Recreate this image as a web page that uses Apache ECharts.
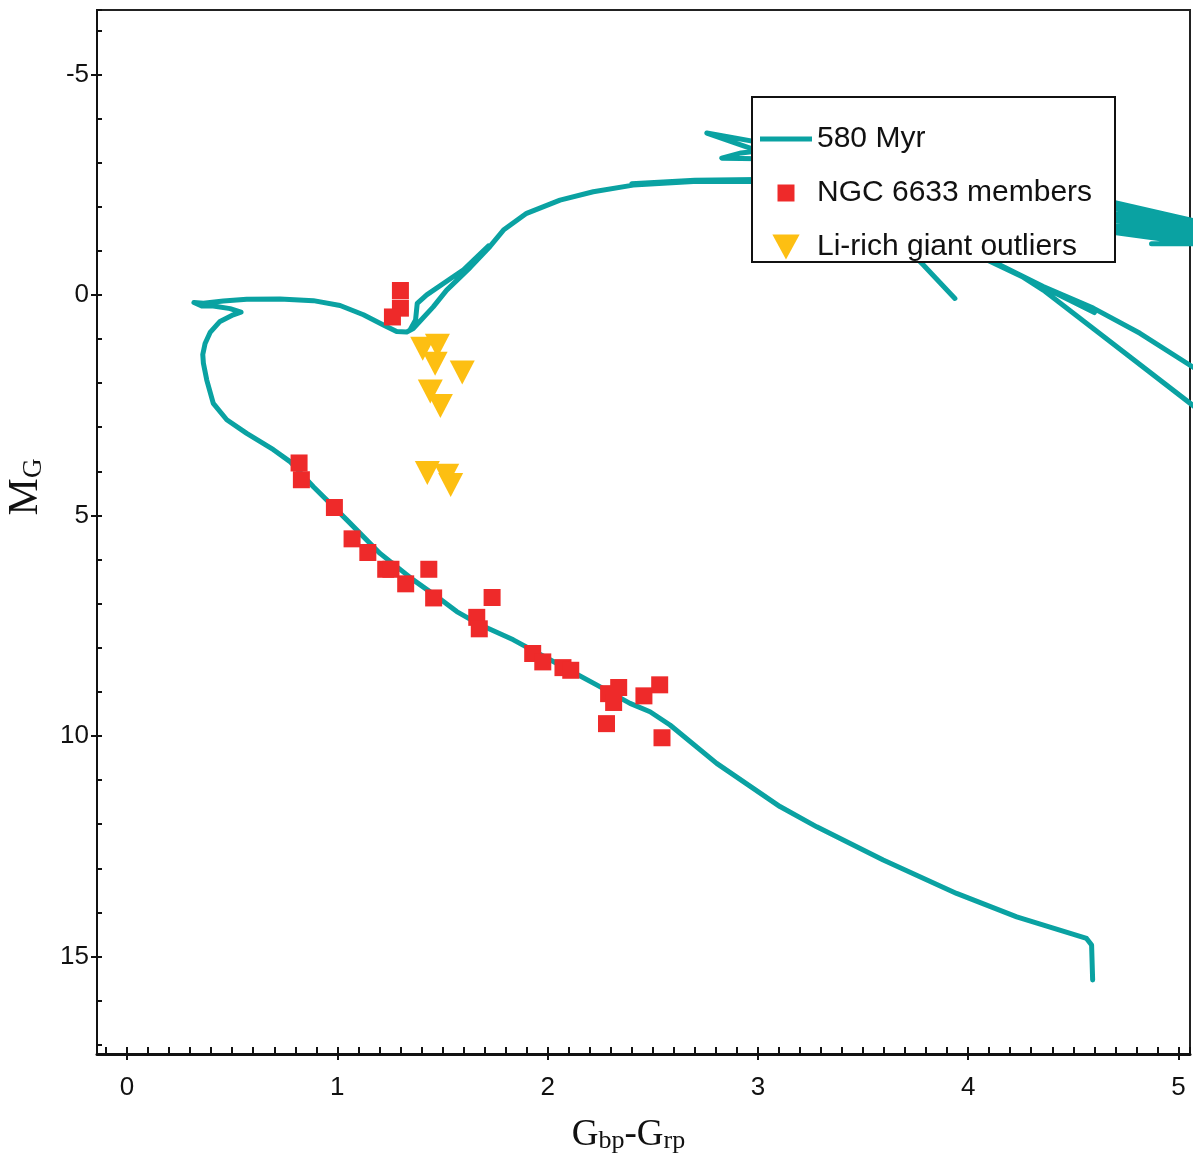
<!DOCTYPE html>
<html>
<head>
<meta charset="utf-8">
<script src="https://cdn.jsdelivr.net/npm/echarts@6/dist/echarts.min.js"></script>
<style>
html,body{margin:0;padding:0;background:#fff;}
#chart{width:1200px;height:1165px;}
</style>
</head>
<body>
<div id="chart"></div>
<script>
// ---- Axis ranges ----
const xRange = [-0.143, 5.055];
const yRange = [-6.46, 17.21];

// ---- Legend / series names ----
const seriesNames = ['580 Myr', 'NGC 6633 members', 'Li-rich giant outliers'];

// ---- NGC 6633 members (Gbp-Grp, M_G) ----
const memberColor = [1.30, 1.30, 1.262, 0.818, 0.829, 0.986, 1.07, 1.145, 1.23, 1.255, 1.325, 1.435, 1.458, 1.663, 1.675, 1.736, 1.929, 1.977, 2.073, 2.11, 2.29, 2.338, 2.314, 2.28, 2.458, 2.533, 2.544];
const memberMag   = [-0.10, 0.30, 0.50, 3.81, 4.19, 4.82, 5.53, 5.84, 6.22, 6.22, 6.55, 6.22, 6.87, 7.31, 7.57, 6.86, 8.13, 8.32, 8.45, 8.51, 9.04, 8.90, 9.24, 9.72, 9.09, 8.84, 10.04];

// ---- Li-rich giant outliers ----
const liColor = [1.476, 1.406, 1.465, 1.594, 1.442, 1.49, 1.428, 1.52, 1.539];
const liMag   = [1.15, 1.22, 1.56, 1.76, 2.19, 2.52, 4.04, 4.10, 4.31];

// ---- 580 Myr isochrone pieces ([Gbp-Grp, M_G]) ----
const isoMain = [[4.592,15.53],[4.587,14.74],[4.563,14.59],[4.231,14.10],[3.945,13.57],[3.596,12.81],[3.28,12.06],[3.105,11.60],[2.804,10.62],[2.582,9.75],[2.487,9.45],[2.392,9.26],[2.233,8.84],[2.027,8.31],[1.837,7.82],[1.679,7.48],[1.568,7.18],[1.473,6.84],[1.361,6.46],[1.203,5.86],[1.045,5.10],[0.886,4.35],[0.775,3.78],[0.696,3.51],[0.569,3.14],[0.474,2.83],[0.41,2.46],[0.379,1.93],[0.363,1.55],[0.360,1.35],[0.371,1.10],[0.395,0.85],[0.442,0.60],[0.505,0.45],[0.542,0.39],[0.49,0.31],[0.41,0.25],[0.355,0.25],[0.318,0.17],[0.363,0.19],[0.458,0.14],[0.569,0.10],[0.727,0.09],[0.886,0.13],[1.013,0.24],[1.124,0.45],[1.219,0.68],[1.282,0.83],[1.33,0.84],[1.361,0.76],[1.456,0.27],[1.52,-0.11],[1.631,-0.62],[1.726,-1.10],[1.79,-1.47],[1.90,-1.85],[2.059,-2.15],[2.217,-2.34],[2.407,-2.49],[2.693,-2.57],[2.962,-2.57],[3.3,-2.60]];
const isoLoop = [[1.345,0.80],[1.372,0.57],[1.38,0.19],[1.425,0.0],[1.60,-0.57],[1.718,-1.11]];
const isoAgbDouble = [[2.40,-2.52],[2.70,-2.60],[3.1,-2.62]];
const isoSpikeA = [[3.1,-3.38],[2.757,-3.67],[3.1,-3.10]];
const isoSpikeB = [[3.1,-3.32],[2.92,-3.22],[2.828,-3.10],[3.1,-3.08]];
const isoBundle = [[4.6,-2.20],[5.1,-1.65],[4.6,-2.06],[5.1,-1.55],[4.6,-1.91],[5.1,-1.45],[4.6,-1.77],[5.1,-1.35],[4.6,-1.62],[5.1,-1.25],[4.6,-1.48],[5.1,-1.15]];
const isoBundleTail = [[4.872,-1.16],[5.1,-1.16]];
const isoStub = [[3.70,-1.10],[3.787,-0.68],[3.937,0.08]];
const isoUpperBranch = [[4.05,-0.92],[4.151,-0.68],[4.357,-0.19],[4.595,0.30],[4.817,0.87],[5.1,1.73]];
const isoLowerBranch = [[4.246,-0.45],[4.357,-0.11],[4.627,0.88],[5.1,2.62]];
const isoBranchDouble = [[4.05,-0.88],[4.28,-0.36],[4.60,0.40]];

const isoPieces = [isoMain, isoLoop, isoAgbDouble, isoSpikeA, isoSpikeB, isoBundle, isoBundleTail, isoStub, isoUpperBranch, isoLowerBranch, isoBranchDouble];
const isoData = [];
isoPieces.forEach((p, i) => { if (i > 0) isoData.push(['-', '-']); p.forEach(pt => isoData.push(pt)); });

const memberData = memberColor.map((c, i) => [c, memberMag[i]]);
const liData = liColor.map((c, i) => [c, liMag[i]]);

const teal = '#0aa2a2';
const red = '#ee2a2a';
const yellow = '#fdbf12';
const ink = '#111';

const intLabel = v => (Math.abs(v - Math.round(v)) < 1e-6 ? String(Math.round(v)) : '');

const chart = echarts.init(document.getElementById('chart'), null, {renderer: 'canvas'});
chart.setOption({
  animation: false,
  backgroundColor: '#fff',
  grid: {left: 97, right: 10, top: 10, bottom: 111, containLabel: false, outerBoundsMode: 'none',
         show: true, borderColor: '#222', borderWidth: 2, backgroundColor: 'transparent'},
  xAxis: [{
    type: 'value', min: xRange[0], max: xRange[1], position: 'bottom',
    axisLine: {show: true, onZero: false, lineStyle: {color: ink, width: 3}},
    axisTick: {show: true, inside: false, length: 6, lineStyle: {color: ink, width: 2}},
    minorTick: {show: false},
    splitLine: {show: false},
    axisLabel: {show: true, margin: 21, formatter: intLabel, showMinLabel: false, showMaxLabel: false,
      fontFamily: 'Liberation Sans', fontSize: 26, color: ink},
    name: '{b|G}{s|bp}{b|-G}{s|rp}', nameLocation: 'middle', nameGap: 60,
    nameTextStyle: {padding: [0, 30, 0, 0], rich: {
      b: {fontFamily: 'Liberation Serif', fontSize: 37, lineHeight: 40, color: ink, verticalAlign: 'bottom'},
      s: {fontFamily: 'Liberation Serif', fontSize: 26, lineHeight: 28, color: ink, verticalAlign: 'bottom'}
    }}
  }, {
    type: 'value', min: xRange[0], max: xRange[1], position: 'bottom',
    axisLine: {show: false, onZero: false},
    axisTick: {show: true, inside: true, length: 7, lineStyle: {color: ink, width: 2}},
    minorTick: {show: true, splitNumber: 10, length: 7, lineStyle: {color: ink, width: 2}},
    splitLine: {show: false}, axisLabel: {show: false}
  }],
  yAxis: [{
    type: 'value', min: yRange[0], max: yRange[1], inverse: true, position: 'left',
    axisLine: {show: true, onZero: false, lineStyle: {color: ink, width: 2}},
    axisTick: {show: true, inside: false, length: 6, lineStyle: {color: ink, width: 2}},
    minorTick: {show: false},
    splitLine: {show: false},
    axisLabel: {show: true, margin: 8, formatter: intLabel, showMinLabel: false, showMaxLabel: false,
      fontFamily: 'Liberation Sans', fontSize: 26, color: ink},
    name: '{m|M}{g|G}', nameLocation: 'middle', nameGap: 50, nameRotate: 90,
    nameTextStyle: {padding: [0, 0, 0, 90], rich: {
      m: {fontFamily: 'Liberation Serif', fontSize: 42, lineHeight: 46, color: ink, verticalAlign: 'bottom'},
      g: {fontFamily: 'Liberation Serif', fontSize: 27, lineHeight: 31, color: ink, verticalAlign: 'bottom'}
    }}
  }, {
    type: 'value', min: yRange[0], max: yRange[1], inverse: true, position: 'left',
    axisLine: {show: false, onZero: false},
    axisTick: {show: true, inside: true, length: 5, lineStyle: {color: ink, width: 2}},
    minorTick: {show: true, splitNumber: 5, length: 5, lineStyle: {color: ink, width: 2}},
    splitLine: {show: false}, axisLabel: {show: false}
  }],
  legend: {
    orient: 'vertical', left: 752, top: 97,
    padding: [27, 8, 0, 8], itemGap: 24, itemWidth: 52, itemHeight: 25,
    backgroundColor: '#fff', borderColor: ink, borderWidth: 2, borderRadius: 0,
    textStyle: {fontFamily: 'Liberation Sans', fontSize: 30, lineHeight: 30, color: ink, width: 290},
    selectedMode: false,
    data: [
      {name: seriesNames[0], icon: 'path://M0,0H52V5H0Z', itemStyle: {color: teal}},
      {name: seriesNames[1], icon: 'path://M-4,-4M0,0H17V17H0ZM21,21'},
      {name: seriesNames[2], icon: 'path://M0,0H24L12,22Z'}
    ]
  },
  series: [{
    name: seriesNames[0], type: 'line', xAxisIndex: 0, yAxisIndex: 0,
    data: isoData, showSymbol: false, symbol: 'none', connectNulls: false, clip: true, smooth: false,
    lineStyle: {color: teal, width: 5, cap: 'round', join: 'round'}, itemStyle: {color: teal}, z: 2
  }, {
    name: seriesNames[1], type: 'scatter', xAxisIndex: 0, yAxisIndex: 0,
    data: memberData, symbol: 'rect', symbolSize: 17, itemStyle: {color: red, opacity: 1}, z: 3
  }, {
    name: seriesNames[2], type: 'scatter', xAxisIndex: 0, yAxisIndex: 0,
    data: liData, symbol: 'triangle', symbolRotate: 180, symbolSize: [25, 24], itemStyle: {color: yellow, opacity: 1}, z: 3
  }]
});
</script>
</body>
</html>
